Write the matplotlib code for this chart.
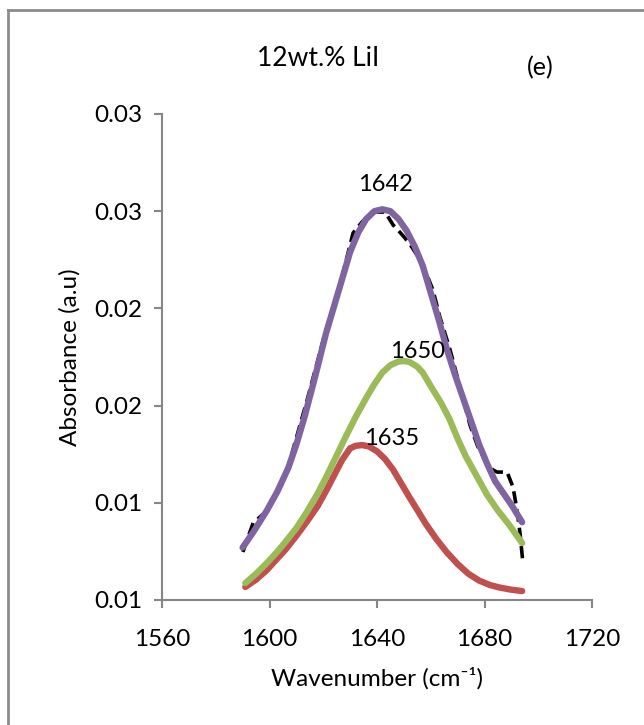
import matplotlib
matplotlib.use('Agg')
import matplotlib.pyplot as plt
from matplotlib.ticker import FuncFormatter, MultipleLocator
from matplotlib.lines import Line2D

# data
wn_exp = [1590.1, 1593.9, 1599.4, 1606.9, 1614.0, 1620.7, 1626.2, 1631.1, 1634.4, 1637.0,
          1639.3, 1643.0, 1646.0, 1648.0, 1650.4, 1653.0, 1656.0, 1658.5, 1660.8, 1663.4,
          1667.2, 1671.0, 1674.6, 1677.5, 1680.2, 1683.0, 1684.7, 1688.4, 1690.6, 1692.1,
          1693.2, 1694.3]
abs_exp = [0.00747, 0.00896, 0.00963, 0.01184, 0.01529, 0.01873, 0.02120, 0.02388, 0.02444, 0.02480,
           0.02495, 0.02496, 0.02429, 0.02400, 0.02362, 0.02315, 0.02249, 0.02175, 0.02095, 0.01956,
           0.01786, 0.01590, 0.01400, 0.01290, 0.01220, 0.01170, 0.01158, 0.01158, 0.01081, 0.00963,
           0.00845, 0.00690]

wn_fit = [1590, 1594, 1599, 1603, 1607, 1610, 1613, 1617, 1621, 1624,
          1627, 1630, 1633, 1636, 1639, 1642, 1645, 1648, 1651, 1654,
          1657, 1660, 1663, 1666, 1669, 1672, 1675, 1678, 1681, 1684,
          1687, 1690, 1694]
abs_fit = [0.0077, 0.0085, 0.0096, 0.0106, 0.0118, 0.0130, 0.0144, 0.0165, 0.0187, 0.0201,
           0.0215, 0.0229, 0.0239, 0.0246, 0.0250, 0.0251, 0.0250, 0.0246, 0.0240, 0.0232,
           0.0222, 0.0208, 0.0194, 0.0179, 0.0166, 0.0154, 0.0142, 0.0130, 0.0120, 0.0111,
           0.0105, 0.0099, 0.0090]

wn_1635 = [1591, 1595, 1599, 1603, 1606, 1610, 1614, 1618, 1621, 1624,
           1627, 1630, 1632, 1634.5, 1637, 1640, 1643, 1646, 1649, 1652,
           1655, 1658, 1662, 1666, 1670, 1674, 1678, 1682, 1686, 1690, 1694]
abs_1635 = [0.00567, 0.00605, 0.00654, 0.00715, 0.00760, 0.00830, 0.00905, 0.00985, 0.01060, 0.01140,
            0.01220, 0.01280, 0.01293, 0.01297, 0.01290, 0.01265, 0.01225, 0.01170, 0.01100, 0.01030,
            0.00963, 0.00895, 0.00815, 0.00745, 0.00685, 0.00635, 0.00600, 0.00577, 0.00563, 0.00553,
            0.00546]

wn_1650 = [1591, 1595, 1599, 1603, 1606, 1610, 1614, 1618, 1621, 1624,
           1628, 1632, 1636, 1639, 1642, 1645, 1648, 1650, 1652, 1655,
           1657, 1660, 1664, 1667, 1670, 1673, 1677, 1681, 1685, 1689, 1694]
abs_1650 = [0.00587, 0.00635, 0.00690, 0.00750, 0.00800, 0.00870, 0.00955, 0.01050, 0.01130, 0.01215,
            0.01330, 0.01440, 0.01540, 0.01610, 0.01670, 0.01708, 0.01727, 0.01729, 0.01725, 0.01700,
            0.01670, 0.01600, 0.01510, 0.01430, 0.01330, 0.01240, 0.01140, 0.01040, 0.00960, 0.00890,
            0.00793]

peak_labels = ['1642', '1650', '1635']

plt.rcParams['font.family'] = ['Lato', 'DejaVu Sans']

fig = plt.figure(figsize=(6.44, 7.25), dpi=100)
ax = fig.add_axes([162/644, 1-600/725, 430/644, 486/725])

line_kw = dict(lw=4.6, solid_capstyle='round', solid_joinstyle='round')
ax.plot(wn_exp, abs_exp, color='black', lw=2.6, ls=(0, (3.4, 1.7)),
        dash_joinstyle='round', zorder=2)
ax.plot(wn_1635, abs_1635, color='#C0504D', zorder=3, **line_kw)
ax.plot(wn_1650, abs_1650, color='#9BBB59', zorder=4, **line_kw)
ax.plot(wn_fit, abs_fit, color='#8064A2', zorder=5, **line_kw)

ax.text(1643.3, 0.02635, peak_labels[0], ha='center', va='center', fontsize=17, zorder=6)
ax.text(1655.0, 0.01780, peak_labels[1], ha='center', va='center', fontsize=17, zorder=6)
ax.text(1645.6, 0.01333, peak_labels[2], ha='center', va='center', fontsize=17, zorder=6)

ax.set_xlim(1560, 1720)
ax.set_ylim(0.005, 0.030)
ax.xaxis.set_major_locator(MultipleLocator(40))
ax.yaxis.set_major_locator(MultipleLocator(0.005))
ax.yaxis.set_major_formatter(FuncFormatter(lambda v, p: f"{round(v + 1e-9, 2):.2f}"))

for s in ['top', 'right']:
    ax.spines[s].set_visible(False)
for s in ['left', 'bottom']:
    ax.spines[s].set_color('#868686')
    ax.spines[s].set_linewidth(1.5)
ax.tick_params(direction='out', length=6, width=1.5, color='#868686', labelsize=17.5)
ax.tick_params(axis='x', pad=15)
ax.tick_params(axis='y', pad=8)

ax.set_xlabel('Wavenumber (cm⁻¹)', fontsize=17.5, labelpad=12)
ax.set_ylabel('Absorbance (a.u)', fontsize=17.5, labelpad=10)

fig.text(318/644, 1-58/725, '12wt.% LiI', ha='center', va='center', fontsize=19)
fig.text(540/644, 1-68/725, '(e)', ha='center', va='center', fontsize=18)

# outer chart border (only top and left visible)
fig.add_artist(Line2D([8/644, 1.0], [1-10/725, 1-10/725], color='#8c8c8c', lw=2))
fig.add_artist(Line2D([8/644, 8/644], [0.0, 1-10/725], color='#8c8c8c', lw=2))

fig.savefig('out.png', dpi=100)
